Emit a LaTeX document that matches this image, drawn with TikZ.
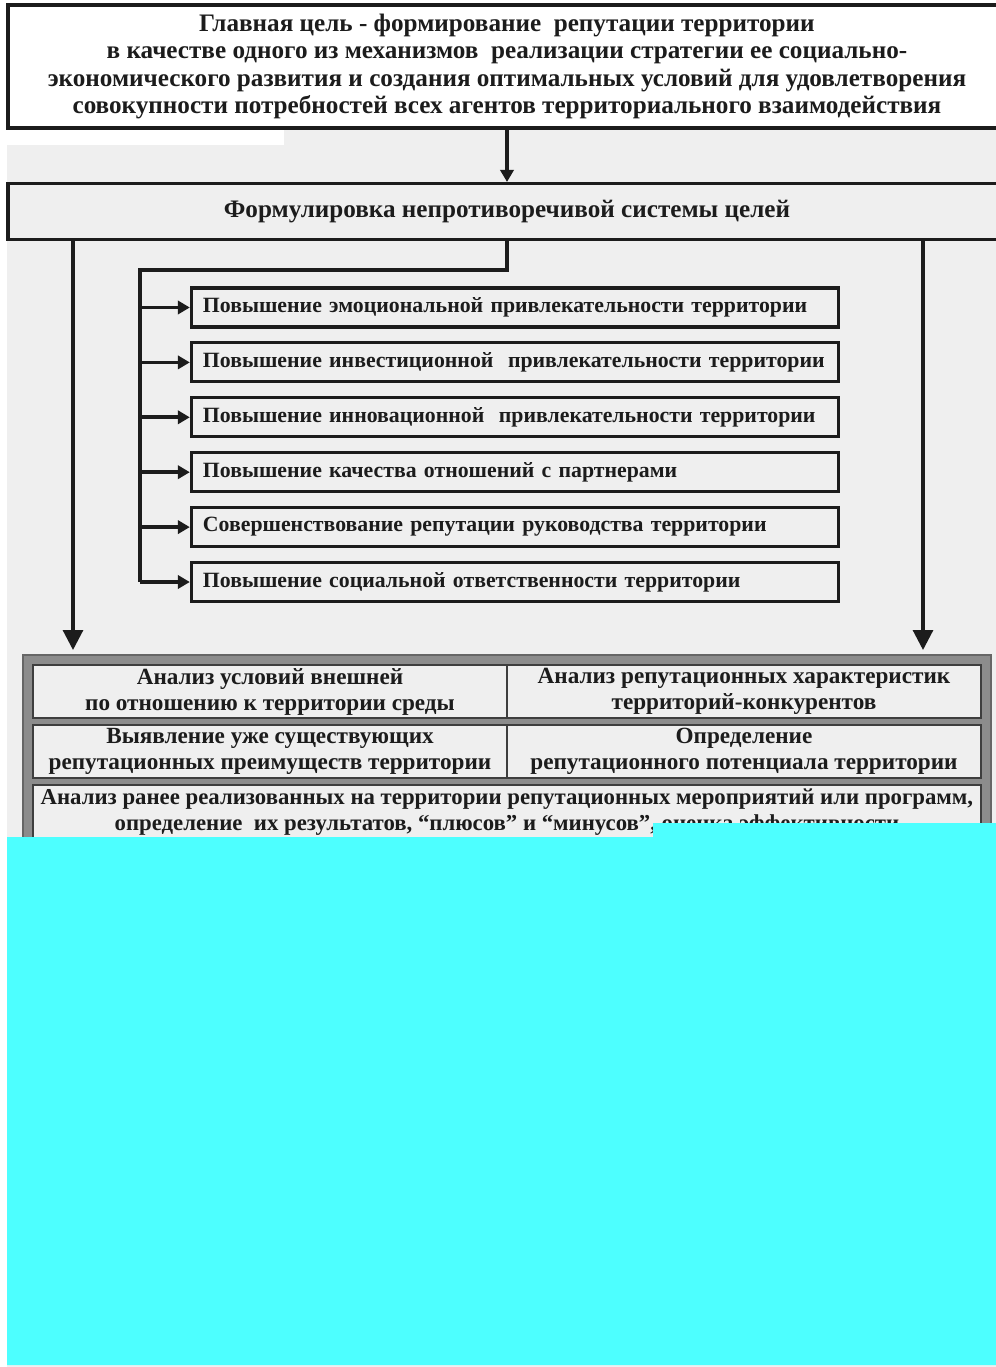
\documentclass[tikz,border=0pt]{standalone}
\usepackage{fontspec}
\setmainfont{Liberation Serif}
\usetikzlibrary{positioning, arrows.meta, calc}
\definecolor{paper}{RGB}{239,239,239}
\definecolor{ink}{RGB}{28,28,28}
\definecolor{frame gray}{RGB}{140,140,140}
\definecolor{glitch}{RGB}{77,255,255}
\newcommand\boxfont{\fontsize{17.9}{19.3}\selectfont\bfseries}
\tikzset
  {
    >={Triangle[length=5mm, width=5mm]},
    box/.style=
      {
        draw=ink,
        line width=2.2pt,
        fill=white,
        inner sep=0pt,
        align=center,
        text=ink,
        font=\boxfont,
        minimum width=249.5mm,
      },
    aim/.style=
      {
        box,
        fill=paper,
        align=left,
        text width=156mm,
        inner xsep=2.9mm,
        minimum width=161.75mm,
        minimum height=9.75mm,
        font=\fontsize{15.5}{19}\selectfont\bfseries,
      },
    cell/.style=
      {
        box,
        draw=ink!85,
        line width=1.6pt,
        fill=paper,
        minimum width=118.5mm,
        minimum height=13.25mm,
        font=\fontsize{16.5}{18.5}\selectfont\bfseries,
      },
    branch/.style=
      {
        ->,
        line width=2.6pt,
        >={Triangle[length=3mm, width=3.3mm]},
      },
  }

\begin{document}
\begin{tikzpicture}[x=.25mm, y=-.25mm, line width=2.2pt, draw=ink]
  % page and paper
  \fill[white] (0,0) rectangle (996,1367);
  \useasboundingbox (0,0) rectangle (996,1367);
  \fill[paper] (7,128) rectangle (996,1367);
  \fill[white] (7,128) rectangle (284,145);

  \node[box, minimum height=30.75mm] at (507,66.5) (goal)
    {Главная цель - формирование\ \ репутации территории\\
     в качестве одного из механизмов\ \ реализации стратегии ее социально-\\
     экономического развития и создания оптимальных условий для удовлетворения\\
     совокупности потребностей всех агентов территориального взаимодействия};

  \node[box, fill=paper, minimum height=14mm]
    at (507,211.5) (system) {Формулировка непротиворечивой системы целей};

  \draw[->, >={Triangle[length=3mm, width=3.3mm]}] (goal) -- (system);

  % subgoals
  \foreach \txt [count=\i] in
    {
      Повышение эмоциональной привлекательности территории,
      Повышение инвестиционной\ \ привлекательности территории,
      Повышение инновационной\ \ привлекательности территории,
      Повышение качества отношений с партнерами,
      Совершенствование репутации руководства территории,
      Повышение социальной ответственности территории
    }
    \node[aim] at (515,{307.5+54.9*(\i-1)}) (aim\i) {\txt};

  \coordinate (trunk) at (140,270);
  \draw (system.south) |- (trunk) -- (trunk |- aim6.west);
  \foreach \i in {1,...,6}
    \draw[branch] (trunk |- aim\i.west) -- (aim\i.west);

  \coordinate (left end) at (73,650);
  \coordinate (right end) at (923,650);
  \draw[->] (system.south -| left end) -- (left end);
  \draw[->] (system.south -| right end) -- (right end);

  % analysis block
  \node[draw=black!60, line width=1pt, fill=frame gray, inner sep=0pt,
    minimum width=242mm, minimum height=53.75mm] at (507,762.5) (frame) {};

  \node[cell] at (270,691.5) (outer)
    {Анализ условий внешней\\по отношению к территории среды};
  \node[cell] at (744,691.5) (rivals)
    {Анализ репутационных характеристик\\территорий-конкурентов};
  \node[cell] at (270,751.5) (advantages)
    {Выявление уже существующих\\репутационных преимуществ территории};
  \node[cell] at (744,751.5) (potential)
    {Определение\\репутационного потенциала территории};
  \node[cell, minimum width=237mm, minimum height=13.75mm,
    font=\fontsize{16.2}{18.5}\selectfont\bfseries] at (507,812.5) (history)
    {Анализ ранее реализованных на территории репутационных мероприятий или программ,\\
     определение\ \ их результатов, “плюсов” и “минусов”, оценка эффективности};

  % damaged part of the scan
  \fill[glitch] (7,837) -| (653,823) -| (996,1365) -| (7,837) -- cycle;
\end{tikzpicture}
\end{document}
